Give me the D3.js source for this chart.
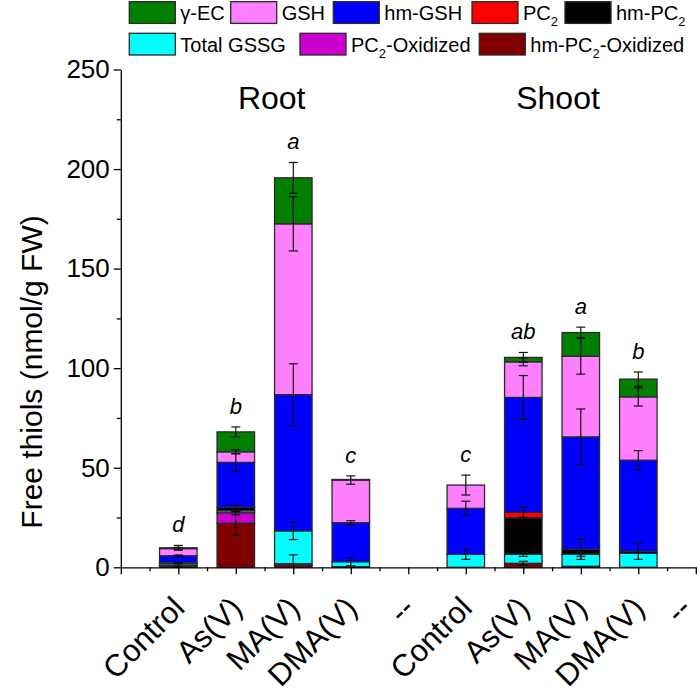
<!DOCTYPE html>
<html><head><meta charset="utf-8">
<script src="https://cdn.jsdelivr.net/npm/d3@7"></script>
<style>body{margin:0;background:#fff}</style>
</head><body><svg id="c" width="700" height="699"></svg>
<script>
// ---------- DATA ----------
const categories = ["Control","As(V)","MA(V)","DMA(V)","--","Control","As(V)","MA(V)","DMA(V)","--"];
const groupTitles = ["Root","Shoot"];
const letters = ["d","b","a","c","","c","ab","a","b",""];
const yTicks = [0,50,100,150,200,250];
const yMinorTicks = [25,75,125,175,225];

// series stacked bottom -> top
const seriesKeys   = ["hmPC2Ox","PC2Ox","GSSG","hmPC2","PC2","hmGSH","GSH","gEC"];
const hmPC2Ox = [0.4,22.1,1.0,0.3,0,  0,2.0,0.5,0,0];
const PC2Ox   = [0.8,5.3,0.8,0,0,     0,0,0,0,0];
const GSSG    = [0.9,1.0,16.5,2.5,0,  6.5,4.5,6.0,7.0,0];
const hmPC2   = [0.3,1.7,0,0,0,       0,18.4,2.5,1.0,0];
const PC2     = [0,0,0,0,0,           0,2.7,0,0,0];
const hmGSH   = [3.4,22.6,68.4,19.6,0, 23.1,57.7,56.5,45.8,0];
const GSH     = [3.6,5.3,85.8,21.4,0,  11.7,17.9,40.5,31.8,0];
const gEC     = [0.4,10.0,23.1,0.3,0,  0,2.2,11.9,8.9,0];

// error bars (± at top of each segment)
const hmPC2OxErr = [0,6,0,0,0,    0,1,0,0,0];
const PC2OxErr   = [1.0,1,4.5,0,0, 0,0,0,0,0];
const GSSGErr    = [0.3,0.5,4.4,2,0, 2.5,1,1,0,0];
const hmPC2Err   = [0,1,0,0,0,    0,0,5,4,0];
const PC2Err     = [0,0,0,0,0,    0,2.5,0,0,0];
const hmGSHErr   = [0.4,4.4,15.5,1,0, 3.6,11,14,4.8,0];
const GSHErr     = [0.6,1,13.6,2.1,0, 5,2,9,4.6,0];
const gECErr     = [1.2,2.5,7.7,0,0,  0,2.5,2.7,3.6,0];

const legendItems = [
  {key:"gEC",  label:["γ-EC"]},
  {key:"GSH",  label:["GSH"]},
  {key:"hmGSH",label:["hm-GSH"]},
  {key:"PC2",  label:["PC","2",""]},
  {key:"hmPC2",label:["hm-PC","2",""]},
  {key:"GSSG", label:["Total GSSG"]},
  {key:"PC2Ox",label:["PC","2","-Oxidized"]},
  {key:"hmPC2Ox",label:["hm-PC","2","-Oxidized"]}
];
const colors = {gEC:"#007F00",GSH:"#FF80FF",hmGSH:"#0000FF",PC2:"#FF0000",hmPC2:"#000000",
  GSSG:"#00FFFF",PC2Ox:"#CC00CC",hmPC2Ox:"#7F0000"};

const values = {hmPC2Ox,PC2Ox,GSSG,hmPC2,PC2,hmGSH,GSH,gEC};
const errs = {hmPC2Ox:hmPC2OxErr,PC2Ox:PC2OxErr,GSSG:GSSGErr,hmPC2:hmPC2Err,PC2:PC2Err,hmGSH:hmGSHErr,GSH:GSHErr,gEC:gECErr};

// ---------- CHART ----------
const font = "Arial, 'Liberation Sans', sans-serif";
const svg = d3.select("#c").style("font-family", font);
const x = d3.scaleLinear().domain([0,10]).range([120.8,695.8]);
const y = d3.scaleLinear().domain([0,250]).range([567.3,69.5]);
const bw = 37.5;

const rows = categories.map((c,i)=>{const r={i}; seriesKeys.forEach(k=>r[k]=values[k][i]); return r;});
const stacked = d3.stack().keys(seriesKeys)(rows);

const gBars = svg.append("g");
stacked.forEach(layer=>{
  gBars.selectAll(null).data(layer.filter(d=>d[1]-d[0]>0)).join("rect")
    .attr("x", d=>x(d.data.i+1)-bw/2)
    .attr("width", bw)
    .attr("y", d=>y(d[1]))
    .attr("height", d=>y(d[0])-y(d[1]))
    .attr("fill", colors[layer.key])
    .attr("stroke","#2a2a2a").attr("stroke-width",1.3);
});
// error bars
const gErr = svg.append("g").attr("stroke","#111").attr("stroke-width",1.2);
stacked.forEach(layer=>{
  layer.forEach((d,i)=>{
    const e = errs[layer.key][i];
    if(!e) return;
    const cx = x(i+1), top=d[1]+e, bot=Math.max(0,d[1]-e);
    gErr.append("line").attr("x1",cx).attr("x2",cx).attr("y1",y(top)).attr("y2",y(bot));
    gErr.append("line").attr("x1",cx-4.5).attr("x2",cx+4.5).attr("y1",y(top)).attr("y2",y(top));
    if(bot>0) gErr.append("line").attr("x1",cx-4.5).attr("x2",cx+4.5).attr("y1",y(bot)).attr("y2",y(bot));
  });
});
// letters
svg.append("g").selectAll("text").data(letters).join("text")
  .attr("x",(d,i)=>x(i+1)).attr("text-anchor","middle")
  .attr("y",(d,i)=>{let mx=0; stacked.forEach(l=>{mx=Math.max(mx,l[i][1]+errs[l.key][i]);}); return y(mx)-13;})
  .attr("font-size",22).attr("font-style","italic").text(d=>d);

// axes
function styleAxis(g){g.selectAll("path,line").attr("stroke","#000").attr("stroke-width",1.3);}
svg.append("g").attr("transform",`translate(${x(0)},0)`)
  .call(d3.axisLeft(y).tickValues(yTicks).tickSize(7).tickSizeOuter(0).tickPadding(4))
  .call(styleAxis)
  .call(g=>g.selectAll("text").attr("font-size",26).attr("font-family",font).attr("fill","#000"));
svg.append("g").attr("transform",`translate(${x(0)},0)`)
  .call(d3.axisLeft(y).tickValues(yMinorTicks).tickSize(4).tickFormat(""))
  .call(styleAxis).call(g=>g.select(".domain").remove());
const xMajor = d3.range(0,11);
const xMinor = d3.range(0,10).map(v=>v+0.5);
svg.append("g").attr("transform",`translate(0,${y(0)})`)
  .call(d3.axisBottom(x).tickValues(xMajor).tickSize(7).tickSizeOuter(0).tickFormat(""))
  .call(styleAxis);
svg.append("g").attr("transform",`translate(0,${y(0)})`)
  .call(d3.axisBottom(x).tickValues(xMinor).tickSize(4).tickFormat(""))
  .call(styleAxis).call(g=>g.select(".domain").remove());

// x labels rotated
const xl = svg.append("g").selectAll("text").data(categories).join("text")
  .attr("transform",(d,i)=>`translate(${x(i+1)+8},${610}) rotate(-45)`)
  .attr("text-anchor","end").attr("font-size",31).text(d=>d);
// keep labels inside the canvas
xl.each(function(d,i){
  const r = this.getBoundingClientRect();
  if(r.right>698){
    const dx = r.right-698;
    d3.select(this).attr("transform",`translate(${x(i+1)+8-dx},${610}) rotate(-45)`);
  }
});

// y title
svg.append("text").attr("transform","translate(42,372) rotate(-90)")
  .attr("text-anchor","middle").attr("font-size",30).text("Free thiols (nmol/g FW)");

// group titles
svg.append("g").selectAll("text").data(groupTitles).join("text")
  .attr("x",(d,i)=>[271.7,558][i]).attr("y",109.3).attr("text-anchor","middle")
  .attr("font-size",32).text(d=>d);

// legend
const legPos = [[129.3,1.7],[230.7,1.7],[333.3,1.7],[472,1.7],[565,1.7],[129.3,33.3],[300,33.3],[479.3,33.3]];
const lg = svg.append("g");
legendItems.forEach((it,i)=>{
  const [lx,ly]=legPos[i];
  lg.append("rect").attr("x",lx).attr("y",ly).attr("width",46).attr("height",21.7)
    .attr("fill",colors[it.key]).attr("stroke","#2a2a2a").attr("stroke-width",1.3);
  const t = lg.append("text").attr("x",lx+51).attr("y",ly+18.5).attr("font-size",20);
  t.append("tspan").text(it.label[0]);
  if(it.label.length>1){
    t.append("tspan").attr("font-size",13).attr("dy",6).text(it.label[1]);
    t.append("tspan").attr("dy",-6).text(it.label[2]);
  }
});
</script></body></html>
